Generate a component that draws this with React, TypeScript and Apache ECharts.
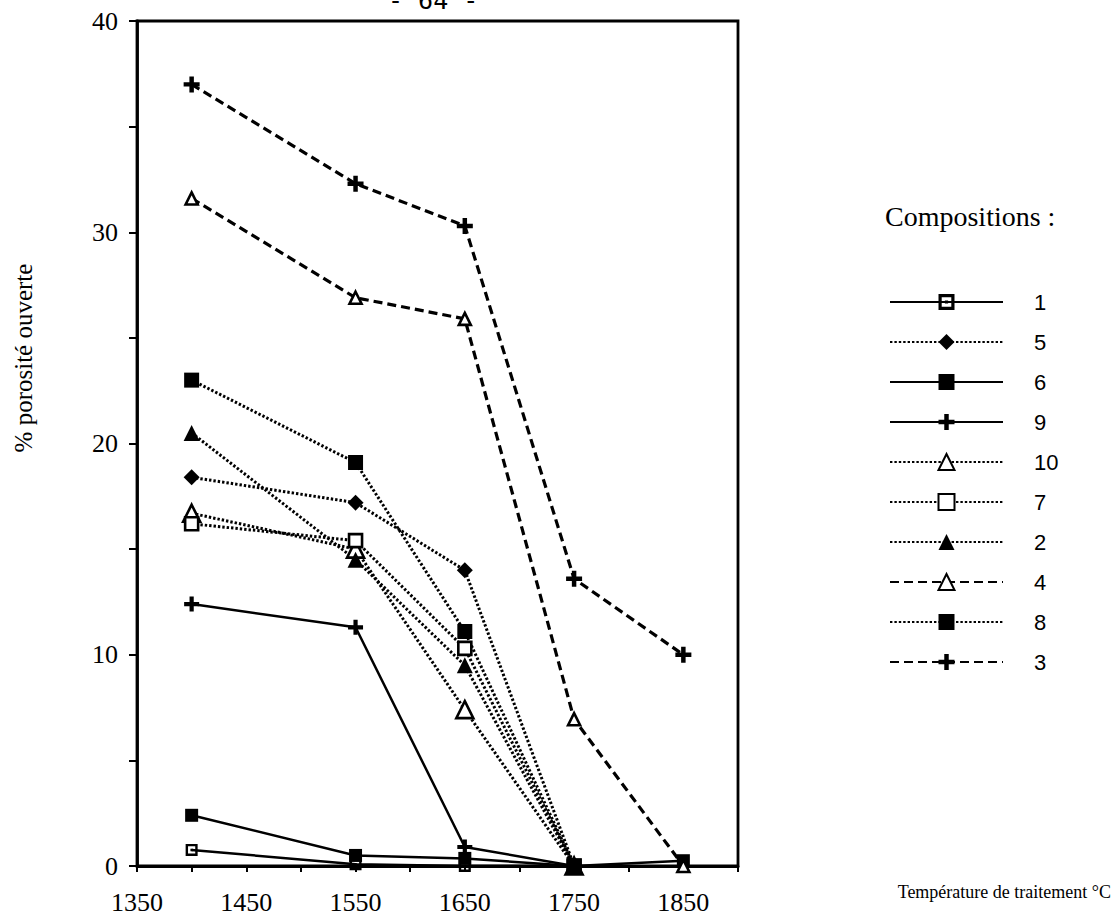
import React, { useEffect, useRef } from 'react';
import * as echarts from 'echarts';

// Temperatures (°C) at which the porosity was measured
const temperatures = [1400, 1550, 1650, 1750, 1850];

// % porosité ouverte for each composition (null = not measured)
const comp1 = [0.76, 0.08, 0.0, 0.0, null];
const comp5 = [18.4, 17.2, 14.0, 0.0, null];
const comp6 = [2.4, 0.5, 0.36, 0.0, 0.25];
const comp9 = [12.4, 11.3, 0.9, 0.0, null];
const comp10 = [16.7, 15.0, 7.4, 0.0, null];
const comp7 = [16.2, 15.4, 10.3, 0.0, null];
const comp2 = [20.5, 14.5, 9.5, 0.0, null];
const comp4 = [31.6, 26.9, 25.9, 6.95, 0.0];
const comp8 = [23.0, 19.1, 11.1, 0.0, null];
const comp3 = [37.0, 32.3, 30.3, 13.6, 10.0];

const legendOrder = ['1', '5', '6', '9', '10', '7', '2', '4', '8', '3'];

const xTickLabels = [1350, 1450, 1550, 1650, 1750, 1850];
const yTickLabels = [0, 10, 20, 30, 40];

const PLUS = 'path://M3.6,0H6.4V3.6H10V6.4H6.4V10H3.6V6.4H0V3.6H3.6Z';
const SQUARE_DOT = 'path://M0,0H10V10H0Z M2,2V8H8V2Z M4,4H6V6H4Z';

const toPoints = (vals: (number | null)[]) =>
  temperatures
    .map((t, i) => [t, vals[i]])
    .filter((p) => p[1] !== null);

type Style = 'solid' | 'dotted' | 'dashed';

const lineType = (s: Style) =>
  s === 'solid' ? 'solid' : s === 'dotted' ? [2.4, 2] : [9, 5];

const makeSeries = (
  name: string,
  vals: (number | null)[],
  style: Style,
  symbol: string,
  size: number,
  hollow: boolean
) => ({
  name,
  type: 'line',
  data: toPoints(vals),
  symbol,
  symbolSize: size,
  showAllSymbol: true,
  itemStyle: hollow
    ? { color: '#ffffff', borderColor: '#000000', borderWidth: 2.6 }
    : { color: '#000000', borderColor: '#000000', borderWidth: 0 },
  lineStyle: {
    color: '#000000',
    width: style === 'dashed' ? 3.2 : style === 'dotted' ? 3 : 2.5,
    type: lineType(style),
  },
  emphasis: { disabled: true },
});

export default function App() {
  const ref = useRef<HTMLDivElement>(null);

  useEffect(() => {
    if (!ref.current) return;
    const chart = echarts.init(ref.current, undefined, { renderer: 'svg' });

    const series = [
      makeSeries('1', comp1, 'solid', SQUARE_DOT, 12, false),
      makeSeries('5', comp5, 'dotted', 'diamond', 16, false),
      makeSeries('6', comp6, 'solid', 'rect', 13, false),
      makeSeries('9', comp9, 'solid', PLUS, 15, false),
      makeSeries('10', comp10, 'dotted', 'triangle', 17, true),
      makeSeries('7', comp7, 'dotted', 'rect', 13, true),
      makeSeries('2', comp2, 'dotted', 'triangle', 16, false),
      makeSeries('4', comp4, 'dashed', 'triangle', 12, true),
      makeSeries('8', comp8, 'dotted', 'rect', 15, false),
      makeSeries('3', comp3, 'dashed', PLUS, 16, false),
    ];

    chart.setOption({
      animation: false,
      backgroundColor: '#ffffff',
      grid: {
        left: 137,
        top: 21,
        right: 376,
        bottom: 53,
        show: true,
        borderColor: '#000000',
        borderWidth: 2.8,
        containLabel: false,
      },
      xAxis: {
        type: 'value',
        min: 1350,
        max: 1900,
        interval: 50,
        splitLine: { show: false },
        axisLine: { show: true, lineStyle: { color: '#000', width: 2.8 } },
        axisTick: { show: true, length: 6, lineStyle: { color: '#000', width: 2 } },
        axisLabel: {
          color: '#000',
          fontFamily: 'Liberation Serif, serif',
          fontSize: 26,
          margin: 23,
          formatter: (v: number) => (xTickLabels.includes(v) ? String(v) : ''),
        },
      },
      yAxis: {
        type: 'value',
        min: 0,
        max: 40,
        interval: 5,
        splitLine: { show: false },
        axisLine: { show: true, lineStyle: { color: '#000', width: 2.8 } },
        axisTick: { show: true, length: 8, lineStyle: { color: '#000', width: 2 } },
        axisLabel: {
          color: '#000',
          fontFamily: 'Liberation Serif, serif',
          fontSize: 26,
          margin: 19,
          formatter: (v: number) => (yTickLabels.includes(v) ? String(v) : ''),
        },
      },
      legend: {
        data: legendOrder,
        orient: 'vertical',
        left: 884,
        top: 286,
        itemWidth: 113,
        itemHeight: 20,
        itemGap: 18,
        selectedMode: false,
        textStyle: {
          color: '#000',
          fontFamily: 'Liberation Sans, Arial, sans-serif',
          fontSize: 22,
          lineHeight: 22,
          padding: [0, 0, 0, 26],
        },
      },
      graphic: [
        {
          type: 'text',
          left: 388,
          top: -12,
          style: {
            text: '- 64 -',
            fontFamily: 'DejaVu Sans Mono, monospace',
            fontSize: 25,
            fill: '#000',
          },
        },
        {
          type: 'text',
          x: 23,
          y: 358,
          rotation: Math.PI / 2,
          style: {
            text: '% porosité ouverte',
            fontFamily: 'Liberation Serif, serif',
            fontSize: 25,
            fill: '#000',
            align: 'center',
            verticalAlign: 'middle',
          },
        },
        {
          type: 'text',
          left: 885,
          top: 202,
          style: {
            text: 'Compositions :',
            fontFamily: 'Liberation Serif, serif',
            fontSize: 28,
            fill: '#000',
          },
        },
        {
          type: 'text',
          x: 1111,
          y: 892,
          style: {
            text: 'Température de traitement °C',
            fontFamily: 'Liberation Serif, serif',
            fontSize: 18,
            fill: '#000',
            align: 'right',
            verticalAlign: 'middle',
          },
        },
      ],
      series,
    });

    return () => chart.dispose();
  }, []);

  return (
    <div
      ref={ref}
      style={{ position: 'absolute', left: 0, top: 0, width: 1114, height: 919 }}
    />
  );
}
